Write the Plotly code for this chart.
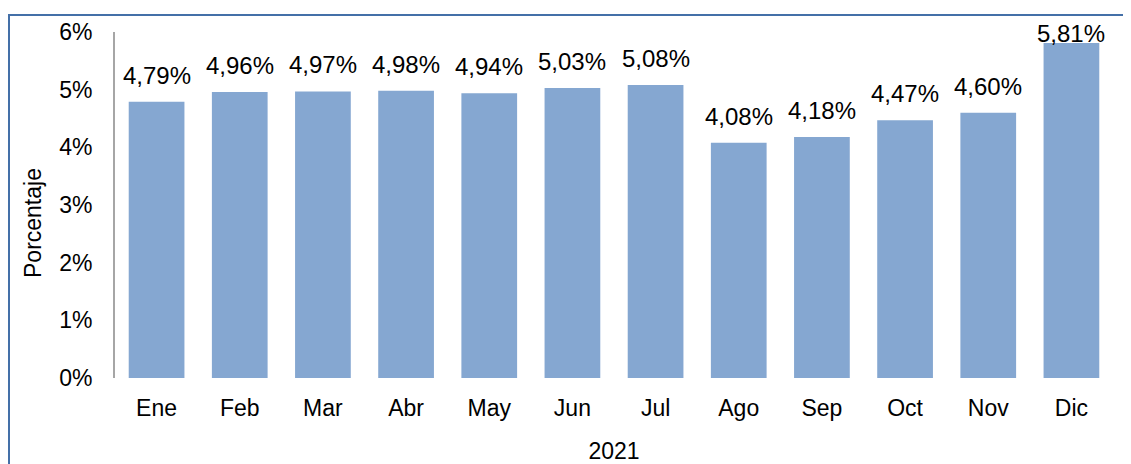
import plotly.graph_objects as go

meses = ["Ene", "Feb", "Mar", "Abr", "May", "Jun", "Jul", "Ago", "Sep", "Oct", "Nov", "Dic"]
porcentaje = [4.79, 4.96, 4.97, 4.98, 4.94, 5.03, 5.08, 4.08, 4.18, 4.47, 4.60, 5.81]
y_ticks = [0, 1, 2, 3, 4, 5, 6]
y_tick_labels = ["0%", "1%", "2%", "3%", "4%", "5%", "6%"]

# la pagina tiene 8px de margen en el body, la figura se ajusta a eso
W, H = 1123, 456
L, R, T, B = 107, 18, 24, 86
pw, ph = W - L - R, H - T - B
Y_MAX = 6

def px_x(x):
    return (x - L) / pw

def px_y(y):
    return (H - B - y) / ph

FONT = "Liberation Sans, Arial, sans-serif"

etiquetas = [f"{v:.2f}".replace(".", ",") + "%" for v in porcentaje]

fig = go.Figure(go.Bar(
    x=meses, y=porcentaje,
    marker=dict(color="#85a7d1", line=dict(width=0)),
    showlegend=False, hoverinfo="x+y",
))

# etiquetas sobre las barras; se bajan si chocan con el borde superior
anots = []
for m, v, t in zip(meses, porcentaje, etiquetas):
    top_px = H - B - v / Y_MAX * ph
    shift = min(11, top_px - 41)
    anots.append(dict(x=m, y=v, text=t, showarrow=False, yanchor="bottom",
                      yshift=shift, font=dict(size=24, color="#000000")))

# titulo del eje y como anotacion (Excel lo deja algo mas abajo del centro)
anots.append(dict(text="Porcentaje", textangle=-90, showarrow=False,
                  xref="paper", yref="paper", x=px_x(25), y=px_y(215),
                  xanchor="center", yanchor="middle",
                  font=dict(size=23, color="#000000")))

fig.update_layout(
    width=W, height=H,
    margin=dict(l=L, r=R, t=T, b=B, autoexpand=False),
    plot_bgcolor="white", paper_bgcolor="white",
    bargap=0.33,
    font=dict(family=FONT, color="#000000"),
    annotations=anots,
    shapes=[dict(type="rect", xref="paper", yref="paper",
                 x0=px_x(1), x1=px_x(W + 10), y0=px_y(H + 10), y1=px_y(7),
                 line=dict(color="#4470a8", width=2), layer="below")],
)
fig.update_xaxes(
    showline=False, showgrid=False, zeroline=False, ticks="", automargin=False,
    tickfont=dict(size=23), ticklabelstandoff=14,
    title=dict(text="2021", font=dict(size=23), standoff=22),
)
fig.update_yaxes(
    range=[0, Y_MAX], tickvals=y_ticks, ticktext=y_tick_labels, automargin=False,
    showline=True, linecolor="#a6a6a6", linewidth=2,
    showgrid=False, zeroline=False, ticks="",
    tickfont=dict(size=23), ticklabelstandoff=16,
)

fig.write_html("out.html")
